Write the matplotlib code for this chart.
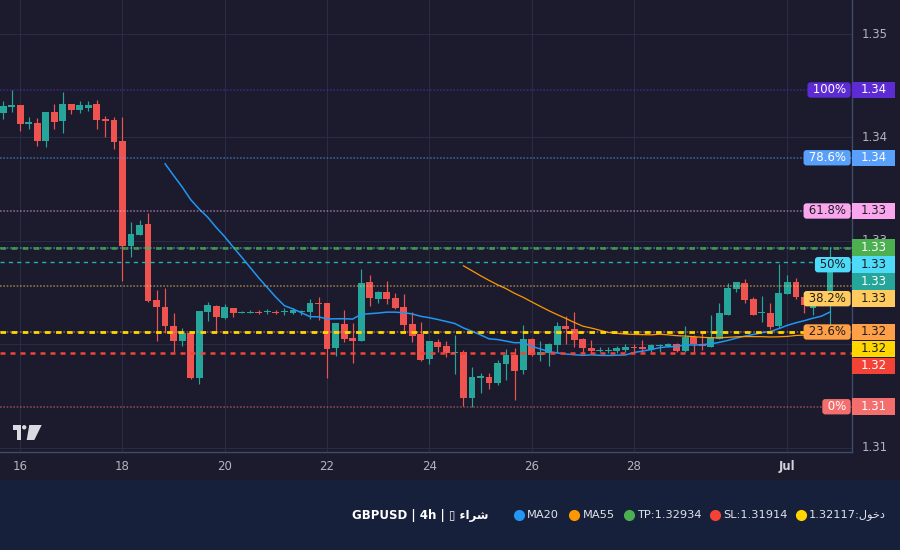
import matplotlib
matplotlib.use('Agg')
import matplotlib.pyplot as plt
import matplotlib.dates as mdates
from matplotlib.patches import Rectangle, Polygon, Circle
from matplotlib.lines import Line2D
from matplotlib.transforms import blended_transform_factory
import numpy as np
import pandas as pd

# GBPUSD 4h candles
opens = [1.34239, 1.34297, 1.34314, 1.34133, 1.34139, 1.33966, 1.34246, 1.34162, 1.34323, 1.34268,
         1.34288, 1.34323, 1.34178, 1.34169, 1.33966, 1.32953, 1.33060, 1.33163, 1.32428, 1.32360,
         1.32177, 1.32035, 1.32106, 1.31677, 1.32315, 1.32370, 1.32257, 1.32351, 1.32305, 1.32305,
         1.32312, 1.32309, 1.32312, 1.32312, 1.32305, 1.32312, 1.32315, 1.32399, 1.32399, 1.31967,
         1.32196, 1.32061, 1.32035, 1.32602, 1.32441, 1.32506, 1.32447, 1.32360, 1.32196, 1.32099,
         1.31860, 1.32022, 1.31983, 1.31916, 1.31925, 1.31483, 1.31677, 1.31684, 1.31628, 1.31812,
         1.31896, 1.31754, 1.32051, 1.31899, 1.31916, 1.31996, 1.32177, 1.32148, 1.32051, 1.31964,
         1.31935, 1.31935, 1.31938, 1.31948, 1.31971, 1.31971, 1.31948, 1.31983, 1.31983, 1.32003,
         1.31935, 1.32070, 1.32003, 1.31977, 1.32051, 1.32283, 1.32537, 1.32590, 1.32438, 1.32299,
         1.32300, 1.32177, 1.32489, 1.32599, 1.32457, 1.32351, 1.32438, 1.32409]
highs = [1.34352, 1.34459, 1.34314, 1.34198, 1.34188, 1.34246, 1.34323, 1.34439, 1.34323, 1.34352,
         1.34352, 1.34362, 1.34207, 1.34198, 1.34198, 1.33182, 1.33202, 1.33269, 1.32525, 1.32544,
         1.32302, 1.32157, 1.32106, 1.32322, 1.32409, 1.32380, 1.32390, 1.32351, 1.32322, 1.32331,
         1.32331, 1.32341, 1.32331, 1.32351, 1.32351, 1.32331, 1.32435, 1.32457, 1.32399, 1.32203,
         1.32331, 1.32206, 1.32728, 1.32670, 1.32515, 1.32612, 1.32496, 1.32486, 1.32312, 1.32215,
         1.32032, 1.32054, 1.32032, 1.32090, 1.31948, 1.31780, 1.31722, 1.31722, 1.31848, 1.31954,
         1.31964, 1.32186, 1.32061, 1.32032, 1.32012, 1.32215, 1.32273, 1.32312, 1.32061, 1.32041,
         1.31971, 1.31971, 1.31983, 1.32003, 1.32003, 1.32041, 1.32003, 1.32003, 1.32012, 1.32012,
         1.32177, 1.32090, 1.32106, 1.32283, 1.32402, 1.32590, 1.32605, 1.32628, 1.32460, 1.32467,
         1.32402, 1.32776, 1.32667, 1.32641, 1.32496, 1.32467, 1.32477, 1.32941]
lows = [1.34181, 1.34246, 1.34065, 1.34085, 1.33920, 1.33911, 1.34085, 1.34046, 1.34226, 1.34236,
        1.34259, 1.34085, 1.34007, 1.33891, 1.32615, 1.32847, 1.33060, 1.32412, 1.32035, 1.32106,
        1.31928, 1.31986, 1.31667, 1.31619, 1.32228, 1.32131, 1.32247, 1.32267, 1.32305, 1.32305,
        1.32293, 1.32293, 1.32293, 1.32283, 1.32293, 1.32280, 1.32247, 1.32238, 1.31677, 1.31889,
        1.32025, 1.31822, 1.32035, 1.32373, 1.32402, 1.32392, 1.32341, 1.32128, 1.32025, 1.31841,
        1.31812, 1.31928, 1.31874, 1.31715, 1.31406, 1.31396, 1.31532, 1.31570, 1.31609, 1.31657,
        1.31464, 1.31715, 1.31889, 1.31841, 1.31793, 1.31916, 1.32003, 1.31977, 1.31919, 1.31913,
        1.31922, 1.31913, 1.31913, 1.31922, 1.31922, 1.31913, 1.31922, 1.31922, 1.31977, 1.31928,
        1.31928, 1.31916, 1.31945, 1.31977, 1.32051, 1.32283, 1.32508, 1.32402, 1.32283, 1.32215,
        1.32145, 1.32154, 1.32489, 1.32441, 1.32305, 1.32283, 1.32370, 1.32177]
closes = [1.34304, 1.34314, 1.34133, 1.34149, 1.33966, 1.34246, 1.34152, 1.34323, 1.34268, 1.34314,
          1.34314, 1.34172, 1.34162, 1.33959, 1.32953, 1.33066, 1.33153, 1.32421, 1.32363, 1.32180,
          1.32035, 1.32109, 1.31677, 1.32322, 1.32380, 1.32267, 1.32360, 1.32302, 1.32312, 1.32312,
          1.32305, 1.32318, 1.32305, 1.32319, 1.32331, 1.32322, 1.32399, 1.32392, 1.31957, 1.32203,
          1.32054, 1.32035, 1.32593, 1.32450, 1.32506, 1.32441, 1.32354, 1.32189, 1.32083, 1.31851,
          1.32032, 1.31974, 1.31919, 1.31925, 1.31483, 1.31684, 1.31693, 1.31628, 1.31819, 1.31896,
          1.31744, 1.32051, 1.31899, 1.31925, 1.32003, 1.32177, 1.32148, 1.32044, 1.31967, 1.31938,
          1.31945, 1.31945, 1.31967, 1.31974, 1.31964, 1.31951, 1.31993, 1.31993, 1.32003, 1.31935,
          1.32070, 1.32003, 1.31983, 1.32070, 1.32300, 1.32544, 1.32599, 1.32428, 1.32283, 1.32308,
          1.32170, 1.32496, 1.32599, 1.32460, 1.32380, 1.32428, 1.32389, 1.32796]

start_time = '2025-06-15 16:00'
tp_price = 1.32934
sl_price = 1.31914
entry_price = 1.32117

fib_ratios = [0.0, 0.236, 0.382, 0.5, 0.618, 0.786, 1.0]
fib_texts = ['0%', '23.6%', '38.2%', '50%', '61.8%', '78.6%', '100%']
fib_colors = ['#f46e6e', '#ff9f47', '#ffcb5e', '#4ddbf9', '#f9a6ee', '#58a0fa', '#5d2bd3']
fib_text_colors = ['white', '#1e1e1e', '#1e1e1e', '#1e1e1e', '#1e1e1e', 'white', 'white']

tick_days = ['2025-06-16', '2025-06-18', '2025-06-20', '2025-06-22', '2025-06-24',
             '2025-06-26', '2025-06-28', '2025-07-01']
tick_labels = ['16', '18', '20', '22', '24', '26', '28', 'Jul']
price_ticks = [1.31, 1.32, 1.33, 1.34, 1.35]

BG = '#1b1b2d'
PANEL = '#17203a'
GRID = '#2a2c46'
UP = '#26a69a'
DOWN = '#ef5350'
TXT = '#b2b5be'

W, H = 900, 550
fig = plt.figure(figsize=(9, 5.5), dpi=100, facecolor=BG)
ax = fig.add_axes([0, 98 / H, 852 / W, 452 / H])
ax.set_facecolor(BG)
sax = fig.add_axes([852 / W, 98 / H, 48 / W, 452 / H], sharey=ax)
sax.axis('off')
sax.set_xlim(0, 1)

o = np.array(opens); h = np.array(highs); l = np.array(lows); c = np.array(closes)
t = pd.date_range(start_time, periods=len(c), freq='4h')
x = mdates.date2num(t)

ymin, ymax = 1.309583, 1.353291
ax.set_ylim(ymin, ymax)
px = (ymax - ymin) / 452.0
day_px = 51.15
left = x[0] - 3.1 / day_px
ax.set_xlim(left, left + 852 / day_px)

# candles
cols = np.where(c >= o, UP, DOWN)
ax.vlines(x, l, h, colors=cols, lw=0.85, zorder=2)
body_lo = np.minimum(o, c)
body_h = np.maximum(np.abs(c - o), 1.2 * px)
ax.bar(x, body_h, bottom=body_lo, width=3.2 / 24, color=cols, linewidth=0, zorder=3)

# moving averages
ma20 = pd.Series(c).rolling(20).mean()
ma55 = pd.Series(c).rolling(55).mean()
ax.plot(x, ma20, color='#2196f3', lw=1.1, zorder=4)
ax.plot(x, ma55, color='#ff9800', lw=0.9, zorder=4)

# fibonacci levels from swing high / low
lo, hi = l.min(), h.max()
fib_prices = [lo + r * (hi - lo) for r in fib_ratios]
for fp, fc in zip(fib_prices, fib_colors):
    ax.axhline(fp, color=fc, lw=1.2, ls=(0, (1, 1)), alpha=0.5, zorder=4)

ax.axhline(tp_price, color='#4caf50', lw=2, ls=(0, (2, 2)), alpha=0.75, zorder=5)
ax.axhline(entry_price, color='#ffd600', lw=2, ls=(0, (2, 2)), zorder=5)
ax.axhline(sl_price, color='#f44336', lw=1.8, ls=(0, (2, 2)), zorder=5)
ax.axhline(c[-1], color='#22b2ab', lw=1, ls=(0, (3, 3)), zorder=5)

# axes styling
ax.set_xticks(mdates.date2num(pd.to_datetime(tick_days)))
ax.set_xticklabels(tick_labels)
for lab in ax.get_xticklabels():
    lab.set_color(TXT)
    lab.set_fontsize(8.5)
ax.get_xticklabels()[-1].set_fontweight('bold')
ax.get_xticklabels()[-1].set_color('#d1d4dc')
ax.set_yticks(price_ticks)
ax.tick_params(axis='both', length=0, pad=6)
ax.tick_params(axis='y', labelleft=False)
ax.grid(True, color=GRID, lw=0.8, zorder=0)
ax.set_axisbelow(True)
for s in ['left', 'top']:
    ax.spines[s].set_visible(False)
for s in ['right', 'bottom']:
    ax.spines[s].set_color('#3f4a68')
    ax.spines[s].set_linewidth(1)

# right-side labels, stacked so they do not overlap
labels = []
for fp, txt, fc, tc in zip(fib_prices, fib_texts, fib_colors, fib_text_colors):
    labels.append((fp, txt, fc, tc))
labels.append((tp_price, None, '#4caf50', 'white'))
labels.append((c[-1], None, UP, 'white'))
labels.append((entry_price, None, '#ffd600', '#1e1e1e'))
labels.append((sl_price, None, '#f44336', 'white'))
labels.sort(key=lambda v: -v[0])

gap = 17 * px
box_h = 16.5 * px
prev = None
placed = []
tr = blended_transform_factory(ax.transAxes, ax.transData)
for price, txt, fc, tc in labels:
    yl = price if prev is None else min(price, prev - gap)
    prev = yl
    placed.append(yl)
    sax.add_patch(Rectangle((0, yl - box_h / 2), 43 / 48, box_h, fc=fc, ec='none',
                            zorder=5, clip_on=False))
    sax.text(21.5 / 48, yl, f'{price:.2f}', color=tc, fontsize=8.5, ha='center',
             va='center', zorder=6, clip_on=False)
    if txt:
        ax.text(849.5 / 852, yl, ' ' + txt + ' ', transform=tr, color=tc,
                fontsize=8.5, ha='right', va='center', zorder=7,
                bbox=dict(boxstyle='round,pad=0.1,rounding_size=0.25', fc=fc, ec='none'))

# price scale (ticks fully hidden behind a label box are skipped)
for p in price_ticks:
    if any(abs(p - yl) < 6 * px for yl in placed):
        continue
    sax.text(10 / 48, p, f'{p:.2f}', color=TXT, fontsize=8.5, va='center', ha='left',
             clip_on=True, zorder=1)

# TradingView-style logo
def pxy(px_x, px_y):
    return (px_x / 100, (H - px_y) / 100)

logo = '#d9dbe3'
fig.add_artist(Polygon([pxy(12.5, 425), pxy(20.7, 425), pxy(20.7, 440), pxy(16.7, 440),
                        pxy(16.7, 429.5), pxy(12.5, 429.5)], closed=True, fc=logo, ec='none',
                       transform=fig.dpi_scale_trans))
fig.add_artist(Circle(pxy(24.2, 427.3), 0.022, fc=logo, ec='none', transform=fig.dpi_scale_trans))
fig.add_artist(Polygon([pxy(29.3, 425), pxy(41.7, 425), pxy(34.3, 440), pxy(26.7, 440)],
                       closed=True, fc=logo, ec='none', transform=fig.dpi_scale_trans))

# bottom legend panel
fig.add_artist(Rectangle((0, 0), 1, 70 / H, transform=fig.transFigure, fc=PANEL, ec='none',
                         zorder=0))
ly = (H - 515) / H
buy = '\uFE80\uFE8D\uFEAE\uFEB7'
enter = '\uFEDD\uFEEE\uFEA7\uFEA9'
fig.text(352 / W, ly, 'GBPUSD | 4h | \u25af ' + buy, color='white', fontsize=8.5,
         fontweight='bold', ha='left', va='center')
legend_items = [
    (518.6, '#2196f3', 'MA20'),
    (574, '#ff9800', 'MA55'),
    (628.6, '#4caf50', f'TP:{tp_price:.5f}'),
    (715, '#f44336', f'SL:{sl_price:.5f}'),
    (800.7, '#ffd600', f'{entry_price:.5f}:' + enter),
]
for lx, col, txt in legend_items:
    fig.add_artist(Line2D([lx / W], [ly], marker='o', markersize=7, color=col, lw=0,
                          transform=fig.transFigure))
    fig.text((lx + 8.5) / W, ly, txt, color='#e0e3eb', fontsize=8.2, ha='left', va='center')

fig.savefig('out.png', dpi=100, facecolor=BG)
plt.close(fig)
